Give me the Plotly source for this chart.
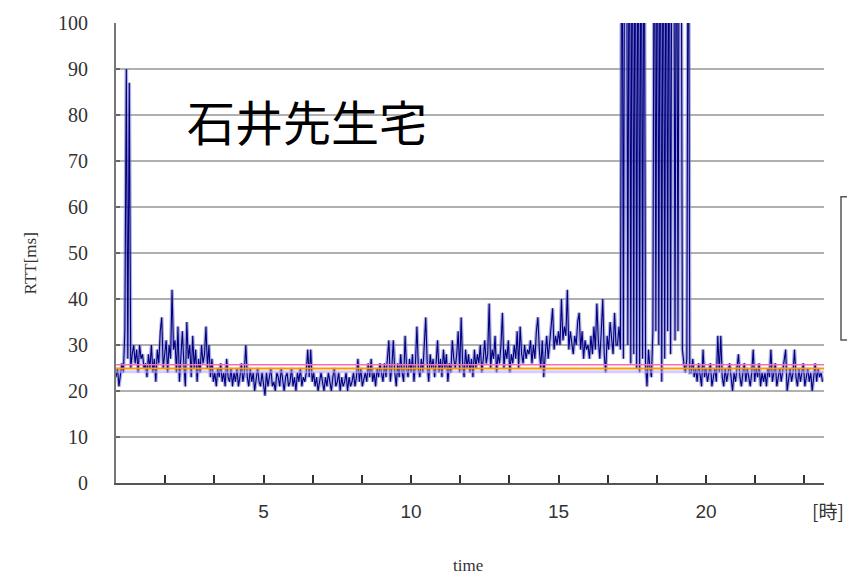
import plotly.graph_objects as go

# RTT samples every 3 minutes (0.05 h) over 24 hours, values in ms (>100 are off-scale)
step_h = 0.05
rtt = [
    # hour 0
    23,25,21,24,26,24,33,90,27,87,25,28,30,26,29,24,30,27,28,25,
    # hour 1
    26,23,28,25,30,24,27,22,29,26,33,36,25,28,31,24,30,27,42,29,
    # hour 2
    31,24,34,22,28,33,26,21,35,27,30,23,32,25,29,22,27,24,30,26,
    # hour 3
    28,34,25,30,23,27,22,24,21,25,23,26,22,24,21,27,23,22,25,21,
    # hour 4
    24,22,25,21,23,26,22,24,30,23,21,25,22,24,20,23,25,22,21,24,
    # hour 5
    22,19,24,21,23,25,21,22,20,24,23,21,25,22,20,23,24,21,22,25,
    # hour 6
    21,23,20,24,22,25,21,23,22,24,29,23,29,22,24,21,23,20,22,24,
    # hour 7
    22,20,23,21,24,22,20,23,25,21,22,24,20,23,21,22,24,20,23,21,
    # hour 8
    22,24,21,23,27,22,25,21,23,24,22,26,23,27,22,24,21,25,23,26,
    # hour 9
    24,22,26,23,27,31,22,25,31,24,21,26,23,28,24,22,32,25,23,27,
    # hour 10
    24,28,22,26,34,25,23,27,24,29,36,26,22,28,25,27,23,26,31,24,
    # hour 11
    27,23,29,25,28,22,26,24,31,27,25,28,33,24,36,26,23,29,25,28,
    # hour 12
    24,27,23,29,25,28,26,30,24,27,31,26,28,39,25,29,27,32,24,28,
    # hour 13
    26,30,37,25,29,27,31,24,28,26,30,27,33,25,34,28,26,30,27,29,
    # hour 14
    28,31,26,30,27,33,36,29,25,31,23,28,32,27,30,34,38,29,32,30,
    # hour 15
    33,30,40,31,34,32,42,29,33,31,28,32,30,35,37,29,33,27,31,29,
    # hour 16
    30,27,32,28,34,29,39,31,27,33,40,28,24,32,29,35,31,28,37,30,
    # hour 17
    30,34,29,150,27,150,150,30,150,26,150,28,150,25,150,24,150,27,150,26,
    # hour 18
    21,29,25,23,33,150,33,150,30,150,22,150,27,150,33,150,28,150,150,31,
    # hour 19
    150,33,150,150,29,26,24,27,150,24,24,27,23,25,22,26,24,21,29,23,
    # hour 20
    25,22,24,26,21,23,25,22,32,24,32,23,21,25,22,24,26,23,20,24,
    # hour 21
    22,25,28,23,21,24,26,22,25,23,21,24,29,22,25,23,26,21,24,22,
    # hour 22
    24,21,25,23,29,22,24,26,21,23,25,22,24,27,29,20,23,25,22,24,
    # hour 23
    29,23,21,25,22,24,26,21,23,25,22,24,20,23,26,22,25,23,24,22,
]
hours = [i * step_h for i in range(len(rtt))]

# reference levels (ms)
pink_level = 25.7
orange_level = 24.9
lavender_level = 24.2

y_ticks = list(range(0, 101, 10))
x_tick_vals = [k * 5 / 3 for k in range(1, 15)]
x_labels = {5: "5", 10: "10", 15: "15", 20: "20"}
x_tick_text = [x_labels.get(round(v), "") if abs(v - round(v)) < 1e-6 else ""
               for v in x_tick_vals]

title_text = "石井先生宅"
y_title = "RTT[ms]"
x_title = "time"
x_unit = "[時]"

fig = go.Figure()
# soft halo (anti-aliased look of the dense series)
fig.add_trace(go.Scatter(x=hours, y=rtt, mode="lines",
                         line=dict(color="rgba(120,120,200,0.6)", width=3.6),
                         showlegend=False, hoverinfo="skip"))
fig.add_trace(go.Scatter(x=hours, y=rtt, mode="lines",
                         line=dict(color="#000080", width=1.1), showlegend=False,
                         hoverinfo="skip"))
for lvl, col, w in [(lavender_level, "rgba(190,170,255,0.6)", 3),
                    (orange_level, "#ff9900", 2),
                    (pink_level, "#f070c0", 1.5)]:
    fig.add_trace(go.Scatter(x=[0, 24], y=[lvl, lvl], mode="lines",
                             line=dict(color=col, width=w), showlegend=False,
                             hoverinfo="skip"))

L, R, T, B = 116, 23, 20, 93
W, H = 847, 576
pw, ph = W - L - R, H - T - B

def px(xp):
    return (xp - L) / pw

def py(yp):
    return (H - B - yp) / ph

fig.update_layout(
    width=W, height=H,
    margin=dict(l=L, r=R, t=T, b=B),
    paper_bgcolor="white", plot_bgcolor="white",
    xaxis=dict(range=[0, 24], tickmode="array", tickvals=x_tick_vals, ticktext=x_tick_text,
               ticks="inside", ticklen=8, tickwidth=1.5, tickcolor="#333",
               showgrid=False, showline=True, linecolor="#555", linewidth=2,
               zeroline=False,
               tickfont=dict(family="Liberation Sans, Arial", size=19, color="#333"),
               ticklabelstandoff=10),
    yaxis=dict(range=[0, 100], tickmode="array", tickvals=y_ticks,
               ticks="inside", ticklen=4, tickwidth=1.5, tickcolor="#666",
               showgrid=True, gridcolor="#b0b0b0", gridwidth=1.5,
               showline=True, linecolor="#777", linewidth=2, zeroline=False,
               tickfont=dict(family="Liberation Serif, Times New Roman", size=20, color="#333"),
               ticklabelstandoff=22),
    shapes=[
        dict(type="rect", xref="paper", yref="paper", x0=px(163), x1=px(492),
             y0=py(150), y1=py(74), fillcolor="white", line=dict(width=0), layer="below"),
        dict(type="rect", xref="paper", yref="paper", x0=px(118), x1=px(160),
             y0=py(72), y1=py(60), fillcolor="white", line=dict(width=0), layer="below"),
        dict(type="rect", xref="paper", yref="paper", x0=px(841), x1=px(860),
             y0=py(339), y1=py(195), fillcolor="white", line=dict(color="#555", width=1.5)),
    ],
    annotations=[
        dict(text=title_text, xref="paper", yref="paper", x=px(307), y=py(118),
             xanchor="center", yanchor="middle", showarrow=False,
             font=dict(family="Noto Sans CJK JP", size=48, color="black")),
        dict(text=y_title, xref="paper", yref="paper", x=px(30), y=py(262),
             xanchor="center", yanchor="middle", showarrow=False, textangle=-90,
             font=dict(family="Liberation Serif, Times New Roman", size=17, color="#333")),
        dict(text=x_title, xref="paper", yref="paper", x=px(468), y=py(566),
             xanchor="center", yanchor="middle", showarrow=False,
             font=dict(family="Liberation Serif, Times New Roman", size=17, color="#333")),
        dict(text=x_unit, xref="paper", yref="paper", x=px(846), y=py(511),
             xanchor="right", yanchor="middle", showarrow=False,
             font=dict(family="Noto Sans CJK JP", size=19, color="#333")),
    ],
)

fig.write_html("out.html")
